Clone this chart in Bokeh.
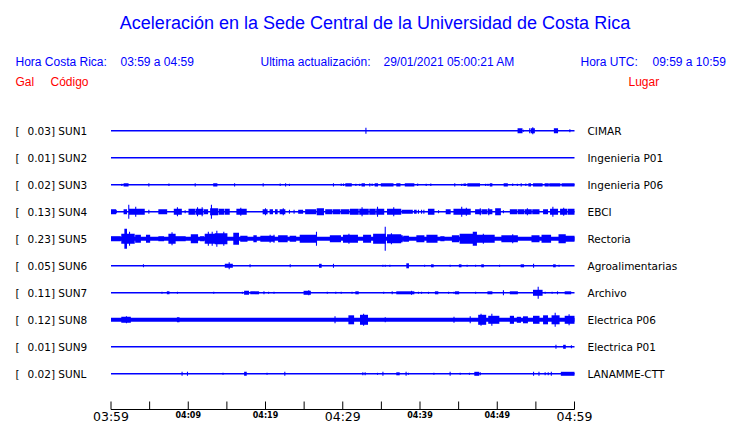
from bokeh.plotting import figure
from bokeh.models import Range1d
from bokeh.core.properties import value
from bokeh.embed import file_html
from bokeh.resources import INLINE

# ---------------- data ----------------
codes = ["SUN1", "SUN2", "SUN3", "SUN4", "SUN5", "SUN6", "SUN7", "SUN8", "SUN9", "SUNL"]
peak_gal = ["0.03", "0.01", "0.02", "0.13", "0.23", "0.05", "0.11", "0.12", "0.01", "0.02"]
places = ["CIMAR", "Ingenieria P01", "Ingenieria P06", "EBCI", "Rectoria",
          "Agroalimentarias", "Archivo", "Electrica P06", "Electrica P01", "LANAMME-CTT"]
# half-width of the continuous background trace (display units)
noise = [0.8, 0.8, 0.8, 0.8, 2.0, 0.8, 0.8, 2.0, 0.8, 0.8]

# bursts: (start minute, end minute, half amplitude) ; minutes after 03:59
sun1 = [(33.0, 33.0, 3), (52.7, 53.2, 2.5), (53.4, 53.4, 1), (54.2, 54.2, 2.5), (54.4, 54.8, 2.5),
        (54.6, 54.6, 3.5), (57.4, 57.8, 2.5), (59.4, 59.4, 1.5)]
sun2 = []
sun3 = [(1.4, 1.4, 1.1), (1.7, 2.2, 1.6), (4.9, 4.9, 1.6), (7.5, 7.5, 1.3), (10.9, 10.9, 1.6),
        (13.3, 13.7, 1.6), (16.0, 16.0, 1.6), (19.7, 19.7, 1.6), (21.9, 21.9, 1.3), (22.6, 22.6, 1.6),
        (23.1, 23.1, 1.1), (28.8, 28.8, 1.6), (29.8, 29.8, 1.3), (30.1, 30.1, 1.3), (30.4, 31.1, 1.6),
        (31.7, 31.7, 1.1), (32.2, 32.2, 1.1), (32.5, 32.8, 1.6), (33.5, 33.5, 1.6), (33.8, 33.8, 1.3),
        (34.2, 34.5, 1.6), (35.0, 36.5, 1.6), (37.0, 37.4, 1.6), (38.1, 39.2, 1.6), (39.7, 39.7, 1.3),
        (40.8, 40.8, 1.1), (41.4, 41.4, 1.3), (44.5, 44.5, 1.6), (45.4, 45.4, 1.1), (45.7, 45.9, 1.3),
        (46.2, 47.7, 1.6), (48.5, 48.5, 1.1), (48.8, 48.8, 1.1), (49.1, 49.3, 1.6), (50.9, 51.3, 1.6),
        (52.0, 52.0, 1.3), (52.6, 52.6, 1.1), (53.1, 53.1, 1.6), (53.7, 53.7, 1.3), (54.1, 54.3, 1.6),
        (54.7, 55.8, 1.6), (56.2, 56.6, 1.6), (56.8, 58.1, 1.6), (58.4, 60.0, 1.6)]
sun4 = [(0.0, 0.6, 2.5), (0.7, 0.7, 1.5), (1.7, 2.0, 2.5), (2.3, 2.3, 7), (2.4, 4.3, 3), (3.2, 3.2, 5),
        (4.9, 4.9, 2), (6.2, 7.2, 2.5), (8.2, 9.1, 3), (8.6, 8.6, 4.5), (9.6, 9.6, 1.5),
        (10.1, 10.8, 3), (11.0, 11.9, 3), (12.1, 12.5, 2.5),
        (11.2, 11.2, 4.5), (11.8, 11.8, 4.5),
        (12.9, 13.8, 3.5), (14.0, 14.6, 3), (14.8, 15.3, 3), (13.0, 13.0, 7),
        (16.3, 17.5, 3), (16.8, 16.8, 4), (19.7, 20.2, 2.5), (20.0, 20.0, 3.5), (20.6, 20.9, 2.5),
        (21.3, 21.5, 2.5), (21.9, 22.5, 2.5), (22.3, 22.3, 3.5), (23.1, 23.1, 2), (23.7, 23.7, 2),
        (24.3, 24.8, 2), (25.2, 26.5, 2.5), (26.7, 27.5, 3.5),
        (27.8, 28.6, 2.5), (28.8, 29.6, 2.5), (29.8, 30.8, 2.5),
        (31.0, 32.0, 3), (32.2, 33.3, 3), (33.5, 34.2, 3), (34.4, 35.3, 3),
        (32.5, 32.5, 4.5), (34.5, 34.5, 5), (35.8, 37.5, 3), (36.6, 36.6, 4.5), (37.7, 39.0, 2),
        (39.3, 39.5, 2), (39.8, 39.8, 2), (40.2, 40.2, 2), (40.5, 40.5, 2), (41.1, 41.8, 3),
        (42.4, 42.4, 1.5), (43.4, 43.9, 2.5), (44.4, 46.5, 3), (45.4, 45.4, 5), (46.0, 46.0, 4),
        (47.2, 47.9, 2.5), (48.1, 48.6, 2.5), (48.8, 49.3, 2.5),
        (47.8, 47.8, 3.5), (48.9, 48.9, 3.5), (49.8, 50.4, 3.5), (50.8, 50.8, 1.5),
        (51.7, 52.5, 2.5), (52.7, 53.4, 2.5), (53.6, 54.4, 2.5), (54.6, 55.4, 2.5),
        (53.9, 53.9, 3.5), (56.0, 56.5, 2.5), (56.9, 57.8, 3), (57.2, 57.2, 5),
        (58.2, 59.0, 3), (59.2, 60.0, 3), (58.6, 58.6, 4)]
sun5 = [(0.0, 1.2, 2.5), (1.4, 3.0, 5), (1.8, 2.0, 10), (2.4, 2.4, 7), (3.2, 3.8, 4), (4.6, 5.0, 4),
        (6.2, 6.8, 2.5), (7.5, 8.3, 5), (7.9, 7.9, 6.5), (8.3, 9.6, 2.5), (10.4, 11.2, 4.5),
        (11.6, 12.0, 2.5), (12.2, 13.5, 5), (12.6, 12.6, 7), (13.1, 13.1, 7), (13.5, 15.0, 5.5),
        (13.7, 13.7, 8), (14.6, 14.6, 7), (15.9, 16.5, 6), (16.8, 17.6, 3), (18.5, 18.8, 3.5),
        (19.4, 21.1, 3), (20.6, 20.6, 4), (21.1, 21.1, 4), (21.7, 22.8, 3.5), (23.2, 23.9, 3),
        (24.5, 26.6, 4), (26.6, 26.6, 7), (28.4, 29.7, 3.5), (30.1, 31.9, 4), (30.8, 30.8, 5),
        (32.7, 33.6, 4), (34.0, 35.5, 5), (35.5, 35.5, 12), (35.8, 37.5, 4.5), (36.3, 36.3, 5.5),
        (37.0, 37.7, 3.5), (37.9, 38.5, 3), (39.6, 40.5, 3.5), (40.9, 42.2, 4), (42.7, 43.1, 2.5),
        (44.2, 45.0, 3.5), (45.2, 46.8, 5), (46.9, 47.3, 7), (47.3, 49.6, 4), (48.2, 48.2, 5),
        (50.6, 52.6, 3.5), (52.0, 52.0, 4.5), (54.5, 55.4, 3.5), (55.8, 56.9, 4), (58.0, 58.8, 4.5),
        (58.8, 60.0, 3)]
sun6 = [(4.2, 4.2, 1.5), (14.8, 15.7, 2), (15.3, 15.3, 3.5), (18.0, 18.0, 1.5), (23.2, 23.2, 1.5),
        (27.0, 27.2, 2), (28.8, 28.8, 2), (35.2, 35.2, 1), (35.5, 35.5, 1), (36.1, 36.1, 1),
        (38.3, 38.5, 2.5), (40.6, 40.6, 1), (41.5, 41.7, 1.5), (43.9, 43.9, 1), (45.1, 45.3, 1.5),
        (46.1, 46.1, 1), (47.2, 47.2, 1), (48.0, 48.2, 1.5), (50.3, 50.3, 1), (53.1, 53.4, 1.5),
        (54.7, 54.7, 2), (57.3, 57.5, 1.5), (58.0, 58.0, 1)]
sun7 = [(6.6, 6.6, 1), (7.3, 7.5, 1.5), (8.6, 8.6, 1), (13.3, 13.3, 1), (17.0, 17.0, 1), (17.3, 17.8, 2),
        (18.1, 19.1, 1.5), (19.8, 19.8, 1.5), (20.4, 20.4, 1), (21.1, 21.1, 1), (25.0, 25.8, 2),
        (25.6, 25.6, 2.5), (28.0, 28.0, 1), (29.1, 29.1, 1), (29.8, 29.8, 1), (31.2, 31.2, 1),
        (31.7, 32.0, 1.5), (35.3, 35.3, 1), (36.4, 36.4, 1.5), (37.0, 39.2, 1.5), (38.9, 38.9, 2),
        (39.8, 39.8, 1), (40.2, 40.2, 1), (41.1, 41.1, 1), (42.0, 42.3, 1.5), (43.7, 43.7, 1),
        (44.4, 44.4, 1), (44.6, 45.0, 1.5), (47.2, 47.2, 1), (48.8, 49.3, 1.5), (50.8, 50.8, 2.5),
        (51.7, 52.6, 1.5), (54.7, 55.8, 3), (55.3, 55.3, 6), (56.2, 56.2, 1), (57.1, 57.1, 1),
        (57.8, 57.8, 1.5), (58.8, 59.5, 1.5)]
sun8 = [(1.4, 2.5, 3), (2.0, 2.0, 3.5), (8.6, 8.8, 2.5), (29.0, 29.0, 3.5), (30.8, 31.4, 4.5),
        (32.3, 33.2, 5), (32.7, 32.7, 6), (35.5, 35.5, 2.5), (44.4, 44.4, 3), (46.5, 46.5, 3.5),
        (47.6, 48.5, 5), (47.9, 47.9, 6), (48.9, 50.2, 4), (49.3, 49.3, 6), (51.7, 52.1, 4),
        (52.6, 53.0, 3), (53.4, 53.9, 3.5), (54.7, 55.4, 4), (56.0, 56.5, 4.5), (57.1, 58.0, 4.5),
        (57.5, 57.5, 7), (58.8, 60.0, 4), (59.3, 59.3, 5.5)]
sun9 = [(57.6, 57.6, 2), (58.6, 58.8, 2), (59.6, 59.6, 1.5)]
sunl = [(9.2, 9.2, 2), (9.9, 9.9, 2), (14.5, 14.5, 1), (17.3, 17.5, 2), (20.2, 20.2, 1), (22.5, 22.5, 2),
        (32.6, 32.6, 1.5), (32.9, 32.9, 1.5), (34.5, 34.5, 1), (35.2, 35.2, 2), (37.0, 37.3, 1.5),
        (38.2, 38.2, 2), (38.5, 38.5, 1), (41.8, 41.8, 1), (43.9, 43.9, 2), (45.2, 45.2, 1),
        (46.4, 46.4, 1), (47.1, 47.6, 2), (47.8, 47.8, 1.5), (54.7, 54.7, 2), (55.4, 55.4, 2),
        (56.2, 56.2, 1.5), (56.6, 56.6, 1.5), (57.0, 57.0, 2), (58.3, 60.0, 2)]
bursts = [sun1, sun2, sun3, sun4, sun5, sun6, sun7, sun8, sun9, sunl]

window_minutes = 60
tick_minutes = [0, 5, 10, 15, 20, 25, 30, 35, 40, 45, 50, 55, 60]
tick_labels = {0: "03:59", 10: "04:09", 20: "04:19", 30: "04:29", 40: "04:39", 50: "04:49", 60: "04:59"}
big_ticks = [0, 30, 60]

title = "Aceleración en la Sede Central de la Universidad de Costa Rica"

# ---------------- layout helpers ----------------
W, H = 740, 423
PX_PER_MIN = 7.725
X0 = 110.5          # canvas px of minute 0
ROW0 = 130.3        # canvas px of first row
ROW_STEP = 27.0


def X(px):   # canvas pixel -> minutes
    return (px - X0) / PX_PER_MIN


def Y(py):   # canvas pixel -> row units
    return (py - ROW0) / ROW_STEP


p = figure(width=W, height=H, toolbar_location=None, output_backend="svg",
           x_range=Range1d(-X0 / PX_PER_MIN, (W - X0) / PX_PER_MIN),
           y_range=Range1d((H - ROW0) / ROW_STEP, -ROW0 / ROW_STEP),
           x_axis_type=None, y_axis_type=None, min_border=0,
           outline_line_color=None, background_fill_color="white",
           border_fill_color="white")
p.xgrid.visible = False
p.ygrid.visible = False

BLUE = "#0000ff"
half_px = 0.07  # minimal width of an event in minutes

# background traces
p.quad(left=[0] * len(codes), right=[window_minutes] * len(codes),
       bottom=[i + noise[i] / ROW_STEP for i in range(len(codes))],
       top=[i - noise[i] / ROW_STEP for i in range(len(codes))],
       fill_color=BLUE, line_color=None)

L, R, B, T = [], [], [], []
for i, ev in enumerate(bursts):
    for (t0, t1, a) in ev:
        L.append(max(0, t0 - half_px))
        R.append(min(window_minutes, t1 + half_px))
        B.append(i + a / ROW_STEP)
        T.append(i - a / ROW_STEP)
p.quad(left=L, right=R, bottom=B, top=T, fill_color=BLUE, line_color=None)

# row labels
rows = list(range(len(codes)))
lab_font = value("DejaVu Sans")
p.text(x=[X(15)] * len(rows), y=rows, text=["["] * len(rows), text_font=lab_font,
       text_font_size=value("10.5px"), text_baseline="middle", text_color="black")
p.text(x=[X(27)] * len(rows), y=rows, text=[f"{g}] {c}" for g, c in zip(peak_gal, codes)],
       text_font=lab_font, text_font_size=value("10.5px"), text_baseline="middle", text_color="black")
p.text(x=[X(587)] * len(rows), y=rows, text=places, text_font=lab_font,
       text_font_size=value("10.5px"), text_baseline="middle", text_color="black")

# title & header
sans = value("Liberation Sans")
p.text(x=[X(374.5)], y=[Y(22)], text=[title], text_font=sans, text_font_size=value("18px"),
       text_align="center", text_baseline="middle", text_color=BLUE)
hx = [15, 120, 260, 383, 580, 652]
ht = ["Hora Costa Rica:", "03:59 a 04:59", "Ultima actualización:", "29/01/2021 05:00:21 AM",
      "Hora UTC:", "09:59 a 10:59"]
p.text(x=[X(v) for v in hx], y=[Y(61)] * len(hx), text=ht, text_font=sans,
       text_font_size=value("12px"), text_baseline="middle", text_color=BLUE)
rx = [15, 50, 628]
rt = ["Gal", "Código", "Lugar"]
p.text(x=[X(v) for v in rx], y=[Y(81)] * len(rx), text=rt, text_font=sans,
       text_font_size=value("12px"), text_baseline="middle", text_color="red")

# time axis
AX_Y = 409
p.segment(x0=[0], y0=[Y(AX_Y)], x1=[window_minutes], y1=[Y(AX_Y)], line_color="black", line_width=1)
p.segment(x0=tick_minutes, y0=[Y(AX_Y)] * len(tick_minutes), x1=tick_minutes,
          y1=[Y(AX_Y - 8)] * len(tick_minutes), line_color="black", line_width=1)
big = [m for m in tick_labels if m in big_ticks]
small = [m for m in tick_labels if m not in big_ticks]
p.text(x=big, y=[Y(AX_Y + 7)] * len(big), text=[tick_labels[m] for m in big],
       text_font=lab_font, text_font_size=value("12.5px"), text_align="center",
       text_baseline="middle", text_color="black")
p.text(x=small, y=[Y(AX_Y + 5.5)] * len(small), text=[tick_labels[m] for m in small],
       text_font=lab_font, text_font_size=value("8px"), text_font_style="bold",
       text_align="center", text_baseline="middle", text_color="black")

open("out.html", "w").write(file_html(p, INLINE))
